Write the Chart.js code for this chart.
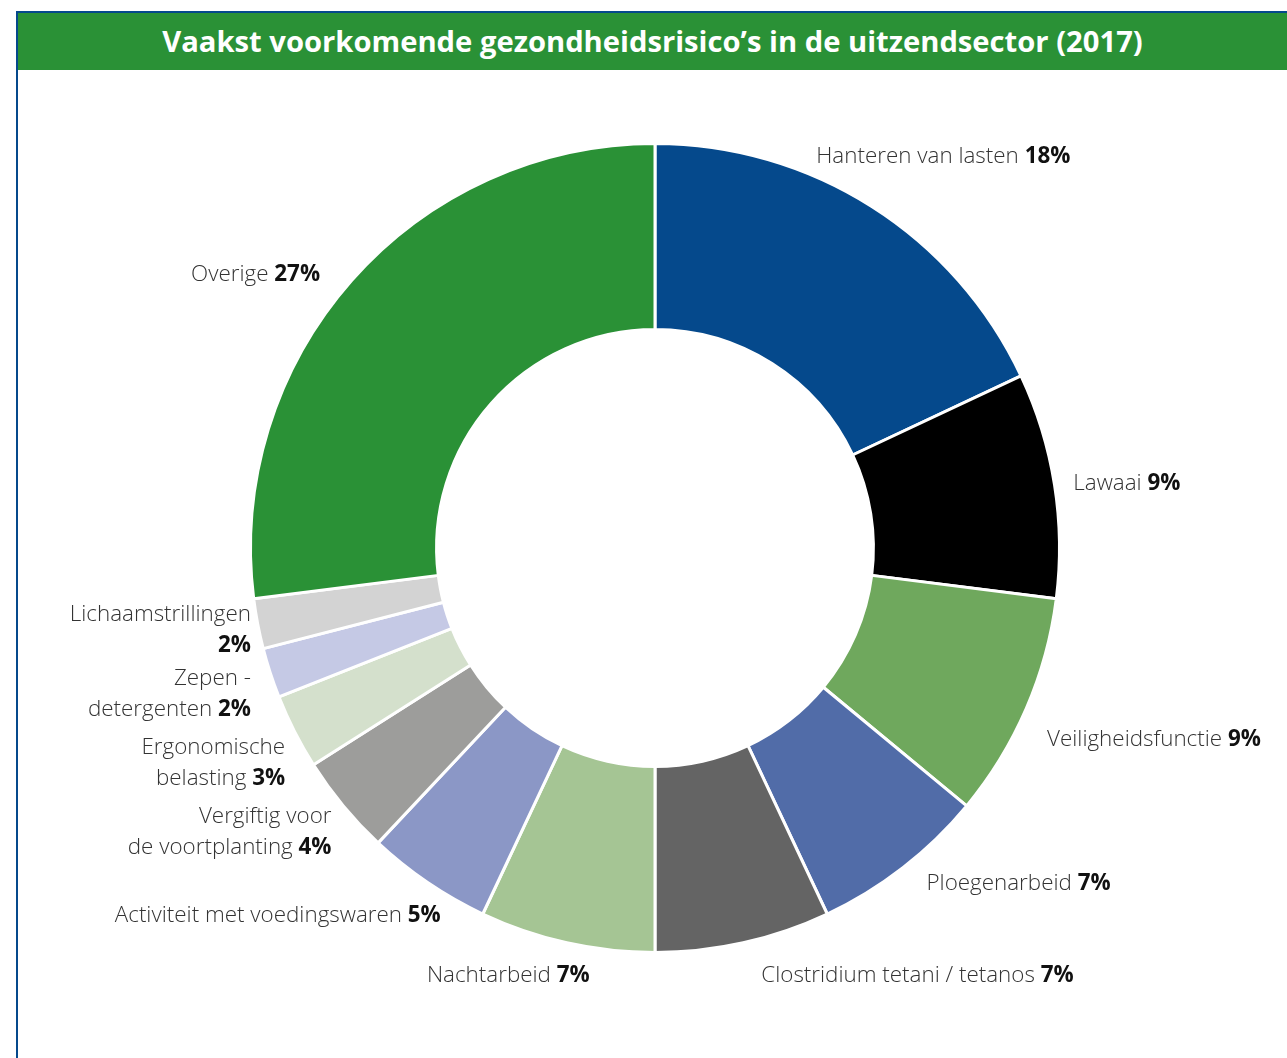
<!DOCTYPE html>
<html>
<head>
<meta charset="utf-8">
<title>Vaakst voorkomende gezondheidsrisico's in de uitzendsector (2017)</title>
<script src="https://cdn.jsdelivr.net/npm/chart.js@4"></script>
<style>
  html, body { margin: 0; padding: 0; background: #fff; overflow: hidden; }
  body { width: 1287px; height: 1058px; position: relative; font-family: "Open Sans", sans-serif; }
  .frame {
    position: absolute; left: 16px; top: 11px; width: 1300px; height: 1100px;
    border-left: 2px solid #05498c; border-top: 2px solid #05498c;
  }
  .title {
    position: absolute; left: 18px; top: 13px; width: 1269px; height: 57px;
    background: #2a9136; color: #fff; font-weight: 700; font-size: 29.2px;
    line-height: 57px; text-align: center; white-space: nowrap;
  }
  #wrap { position: absolute; left: 0; top: 0; width: 1287px; height: 1058px; }
</style>
</head>
<body>
<div class="frame"></div>
<div class="title">Vaakst voorkomende gezondheidsrisico’s in de uitzendsector (2017)</div>
<div id="wrap"><canvas id="chart"></canvas></div>
<script>
// categories (label lines) and shares in %
const categories = [
  ['Hanteren van lasten'],
  ['Lawaai'],
  ['Veiligheidsfunctie'],
  ['Ploegenarbeid'],
  ['Clostridium tetani / tetanos'],
  ['Nachtarbeid'],
  ['Activiteit met voedingswaren'],
  ['Vergiftig voor', 'de voortplanting'],
  ['Ergonomische', 'belasting'],
  ['Zepen -', 'detergenten'],
  ['Lichaamstrillingen', ''],
  ['Overige']
];
const shares = [18, 9, 9, 7, 7, 7, 5, 4, 3, 2, 2, 27];
const sliceColors = ['#05498c', '#000000', '#6fa85d', '#516ca8', '#646464', '#a5c594',
  '#8b97c6', '#9d9d9b', '#d4e0cc', '#c5c9e5', '#d3d3d3', '#2a9136'];

// small hand adjustments of label placement, relative to the slice mid-angle anchor
const labelNudge = [[-63, -38], [5, 1], [8, 25], [15, 5], [15, 19], [26, 19],
  [21, 21], [-1, 17], [3, 25], [-6, 17], [7, 4], [-21, 3]];

const labelPlugin = {
  id: 'outerLabels',
  afterDraw(chart) {
    const ctx = chart.ctx;
    const arcs = chart.getDatasetMeta(0).data;
    const normFont = '300 22.4px "Open Sans"';
    const boldFont = '700 22.4px "Open Sans"';
    ctx.save();
    ctx.textBaseline = 'middle';
    const lineH = 31;
    arcs.forEach((arc, i) => {
      const p = arc.getProps(['x', 'y', 'startAngle', 'endAngle', 'outerRadius'], true);
      const mid = (p.startAngle + p.endAngle) / 2;
      const r = p.outerRadius + 14;
      const right = Math.cos(mid) > 0 && i !== 5;
      const ax = p.x + r * Math.cos(mid) + labelNudge[i][0];
      const ay = p.y + r * Math.sin(mid) + labelNudge[i][1];
      const lines = categories[i];
      const pct = shares[i] + '%';
      const top = ay - (lines.length - 1) * lineH / 2;
      lines.forEach((txt, li) => {
        const y = top + li * lineH;
        const last = li === lines.length - 1;
        const sep = txt ? ' ' : '';
        ctx.font = normFont;
        const wNorm = ctx.measureText(txt + (last ? sep : '')).width;
        ctx.font = boldFont;
        const wPct = last ? ctx.measureText(pct).width : 0;
        const x0 = right ? ax : ax - wNorm - wPct;
        ctx.textAlign = 'left';
        ctx.fillStyle = '#333333';
        ctx.font = normFont;
        ctx.fillText(txt + (last ? sep : ''), x0, y);
        if (last) {
          ctx.fillStyle = '#111111';
          ctx.font = boldFont;
          ctx.fillText(pct, x0 + wNorm, y);
        }
      });
    });
    ctx.restore();
  }
};

new Chart(document.getElementById('chart'), {
  type: 'doughnut',
  data: {
    labels: categories.map(c => c.join(' ')),
    datasets: [{
      data: shares,
      backgroundColor: sliceColors,
      borderColor: '#ffffff',
      borderWidth: 3
    }]
  },
  options: {
    responsive: true,
    maintainAspectRatio: false,
    animation: false,
    cutout: '54%',
    layout: { padding: { left: 249, right: 226, top: 142, bottom: 104 } },
    plugins: { legend: { display: false }, tooltip: { enabled: false } }
  },
  plugins: [labelPlugin]
});
</script>
</body>
</html>
